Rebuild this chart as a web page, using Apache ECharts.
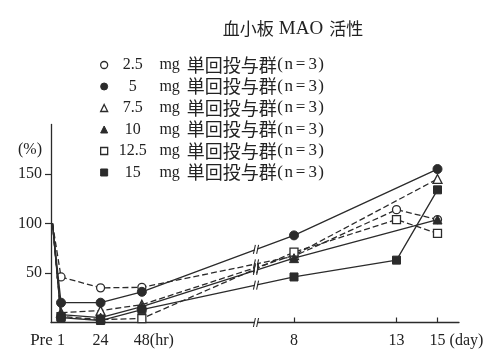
<!DOCTYPE html>
<html><head><meta charset="utf-8">
<script src="https://cdn.jsdelivr.net/npm/echarts@6/dist/echarts.min.js"></script>
<style>html,body{margin:0;padding:0;background:#fff}#c{width:499px;height:353px}</style>
</head><body><div id="c"></div>
<script>
// ---- data ----
const titleParts = ['血小板', 'MAO', '活性'];
const timeLabels = ['Pre', '1', '24', '48', '8', '13', '15'];
const timeUnits  = ['pre', 'hr', 'hr', 'hr', 'day', 'day', 'day'];
const timeValues = [0, 1, 24, 48, 8, 13, 15];
const doses = ['2.5', '5', '7.5', '10', '12.5', '15'];
const groupText = '単回投与群';
const nText = ['(', 'n', '=', '3', ')'];
const v2_5  = [100, 46, 35, 35.5, 67, 114, 104];
const v5    = [100, 20, 20, 31, 88, null, 155];
const v7_5  = [100, 10, 12, 18, 68, null, 145];
const v10   = [100, 8, 5, 16, 65, null, 104];
const v12_5 = [100, 6, 3, 4, 71, 104, 90];
const v15   = [100, 5, 2, 13, 46, 63, 134];
const yTicks = [50, 100, 150];

// ---- broken time scale (hours, then days) ----
const PRE_POS = 1.5, HOUR_ORIGIN = 8.3, HOUR_STEP = 1.72;
const DAY_ORIGIN = 243, DAY_STEP = 20.5, DAY_REF = 8;
const BREAK_POS = 205, X_MAX = 408;
function xPos(i) {
  const u = timeUnits[i], t = timeValues[i];
  if (u === 'pre') return PRE_POS;
  if (u === 'hr') return HOUR_ORIGIN + HOUR_STEP * t;
  return DAY_ORIGIN + DAY_STEP * (t - DAY_REF);
}

const FONT = "'Liberation Serif', 'Noto Sans CJK JP', serif";
const CJK = "'Noto Sans CJK JP', 'Liberation Serif', sans-serif";
const INK = '#2b2b2b';
const allValues = [v2_5, v5, v7_5, v10, v12_5, v15];
const styles = [
  { symbol: 'circle',   filled: false, dashed: true,  size: 8 },
  { symbol: 'circle',   filled: true,  dashed: false, size: 9 },
  { symbol: 'triangle', filled: false, dashed: true,  size: 9 },
  { symbol: 'triangle', filled: true,  dashed: false, size: 9 },
  { symbol: 'rect',     filled: false, dashed: true,  size: 8 },
  { symbol: 'rect',     filled: true,  dashed: false, size: 8 }
];
const names = doses.map(d => d + ' mg ' + groupText + nText.join(''));

function itemStyleOf(s) {
  return s.filled ? { color: INK, borderColor: INK, borderWidth: 1 }
                  : { color: '#fff', borderColor: INK, borderWidth: 1.3 };
}

const lineSeries = allValues.map((vals, k) => {
  const s = styles[k];
  return {
    name: names[k], type: 'line', symbol: s.symbol, symbolSize: s.size,
    connectNulls: true,
    itemStyle: itemStyleOf(s),
    lineStyle: { color: INK, width: 1.3, type: s.dashed ? [6, 3] : 'solid' },
    z: s.filled ? 3 : 2,
    data: vals.map((v, i) => {
      const item = { value: [xPos(i), v] };
      if (timeUnits[i] === 'pre') item.symbol = 'none';
      return item;
    }).filter(d => d.value[1] !== null)
  };
});

// break marks on each 48hr -> day 8 segment and on the axis
const iLastHr = timeUnits.lastIndexOf('hr'), iFirstDay = timeUnits.indexOf('day');
const breakData = allValues.map(vals => [xPos(iLastHr), vals[iLastHr], xPos(iFirstDay), vals[iFirstDay]]);
breakData.push([xPos(iLastHr), 0, xPos(iFirstDay), 0]);

const breakSeries = {
  type: 'custom', coordinateSystem: 'cartesian2d', silent: true, z: 5,
  encode: { x: [0, 2], y: [1, 3] },
  data: breakData,
  renderItem(params, api) {
    const p1 = api.coord([api.value(0), api.value(1)]);
    const p2 = api.coord([api.value(2), api.value(3)]);
    const bx = api.coord([BREAK_POS, 0])[0];
    const t = (bx - p1[0]) / (p2[0] - p1[0]);
    const by = p1[1] + t * (p2[1] - p1[1]);
    const g = 1.6, h = 4.5, sk = 1.0;
    return { type: 'group', children: [
      { type: 'rect', shape: { x: bx - g + 0.5, y: by - 2.5, width: 2 * g - 1, height: 5 }, style: { fill: '#fff' } },
      { type: 'line', shape: { x1: bx - g - sk, y1: by + h, x2: bx - g + sk, y2: by - h }, style: { stroke: INK, lineWidth: 1.1 } },
      { type: 'line', shape: { x1: bx + g - sk, y1: by + h, x2: bx + g + sk, y2: by - h }, style: { stroke: INK, lineWidth: 1.1 } }
    ]};
  }
};

const xLabelPos = timeLabels.map((_, i) => xPos(i));
const xTickPos = timeLabels.map((_, i) => xPos(i)).filter((_, i) => timeUnits[i] !== 'pre');

function xLabelFmt(val) {
  let idx = 0, best = Infinity;
  xLabelPos.forEach((p, i) => { const d = Math.abs(p - val); if (d < best) { best = d; idx = i; } });
  const lab = timeLabels[idx], u = timeUnits[idx];
  if (u === 'pre') return '{pre|' + lab + '}';
  if (u === 'hr' && idx === iLastHr) return '{hr|' + lab + '}{t|(hr)}';
  if (u === 'day' && idx === timeUnits.length - 1) return '{day|' + lab + '}{t| (day)}';
  return '{t|' + lab + '}';
}

const chart = echarts.init(document.getElementById('c'), null, { renderer: 'canvas' });
chart.setOption({
  animation: false,
  backgroundColor: '#fff',
  title: {
    text: '{c|' + titleParts[0] + '}{m|' + titleParts[1] + '}{c|' + titleParts[2] + '}',
    left: 288, top: 13, textAlign: 'center',
    textStyle: {
      fontFamily: FONT, fontSize: 16, fontWeight: 'normal', color: '#222',
      rich: {
        c: { fontFamily: CJK, fontSize: 17, color: '#222', lineHeight: 22 },
        m: { fontFamily: FONT, fontSize: 19, color: '#222', lineHeight: 22, padding: [0, 6, 0, 5] }
      }
    }
  },
  legend: {
    orient: 'vertical', left: 95, top: 51, itemWidth: 7, itemHeight: 7, itemGap: 3.5,
    data: names.map((n, k) => ({ name: n, icon: styles[k].symbol, itemStyle: itemStyleOf(styles[k]) })),
    formatter: name => {
      const k = names.indexOf(name);
      return '{n|' + doses[k] + '}{m|mg}{c|' + groupText + '}{p|' + nText[0] + '}{q|' + nText[1] +
             '}{e|' + nText[2] + '}{q|' + nText[3] + '}{p|' + nText[4] + '}';
    },
    textStyle: {
      fontFamily: FONT, fontSize: 16, color: '#222',
      rich: {
        n: { width: 40, align: 'center', fontFamily: FONT, fontSize: 16, lineHeight: 18 },
        m: { width: 34, fontFamily: FONT, fontSize: 16, lineHeight: 18 },
        c: { fontFamily: CJK, fontSize: 18, lineHeight: 18 },
        p: { width: 7, align: 'center', fontFamily: FONT, fontSize: 17, lineHeight: 18 },
        q: { width: 10, align: 'center', fontFamily: FONT, fontSize: 17, lineHeight: 18 },
        e: { width: 14, align: 'center', fontFamily: FONT, fontSize: 17, lineHeight: 18 }
      }
    }
  },
  grid: { left: 51, right: 40, top: 124.5, bottom: 30.5, containLabel: false },
  xAxis: {
    type: 'value', min: 0, max: X_MAX,
    splitLine: { show: false },
    axisLine: { show: true, lineStyle: { color: INK, width: 1.3 } },
    axisTick: { show: true, inside: true, length: 5, customValues: xTickPos, lineStyle: { color: INK, width: 1.2 } },
    axisLabel: {
      customValues: xLabelPos, margin: 10, formatter: xLabelFmt, color: '#222',
      fontFamily: FONT, fontSize: 16,
      rich: {
        t:   { fontFamily: FONT, fontSize: 16, color: '#222' },
        pre: { fontFamily: FONT, fontSize: 17, color: '#222', padding: [0, 22, 0, 0] },
        hr:  { fontFamily: FONT, fontSize: 16, color: '#222', padding: [0, 0, 0, 24] },
        day: { fontFamily: FONT, fontSize: 16, color: '#222', padding: [0, 0, 0, 38] }
      }
    }
  },
  yAxis: {
    type: 'value', min: 0, max: 200,
    name: '(%)', nameLocation: 'end', nameGap: -25,
    nameTextStyle: { fontFamily: FONT, fontSize: 16, color: '#222', align: 'right', verticalAlign: 'middle', padding: [0, 9, 0, 0] },
    splitLine: { show: false },
    axisLine: { show: true, lineStyle: { color: INK, width: 1.3 } },
    axisTick: { show: true, inside: false, length: 6, customValues: yTicks, lineStyle: { color: INK, width: 1.2 } },
    axisLabel: { customValues: yTicks, margin: 9, fontFamily: FONT, fontSize: 16, color: '#222' }
  },
  series: lineSeries.concat([breakSeries])
});
</script></body></html>
